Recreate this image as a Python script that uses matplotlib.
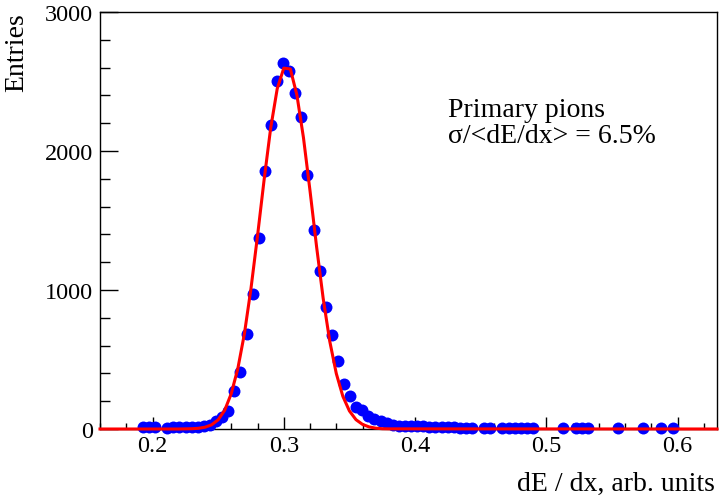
import numpy as np
import matplotlib
matplotlib.use("Agg")
import matplotlib.pyplot as plt
from matplotlib.ticker import MultipleLocator

# dE/dx histogram of primary pions (bin centres, entries)
bin_centers = [0.1927, 0.1973, 0.2020, 0.2113, 0.2159, 0.2205, 0.2252, 0.2298,
               0.2345, 0.2391, 0.2438, 0.2484, 0.2530, 0.2577, 0.2623, 0.2670,
               0.2716, 0.2763, 0.2809, 0.2855, 0.2902, 0.2948, 0.2995, 0.3041,
               0.3088, 0.3134, 0.3180, 0.3227, 0.3273, 0.3320, 0.3366, 0.3413,
               0.3459, 0.3505, 0.3552, 0.3598, 0.3645, 0.3691, 0.3738, 0.3784,
               0.3830, 0.3877, 0.3923, 0.3970, 0.4016, 0.4063, 0.4109, 0.4155,
               0.4202, 0.4248, 0.4295, 0.4341, 0.4388, 0.4434, 0.4527, 0.4573,
               0.4666, 0.4713, 0.4759, 0.4805, 0.4852, 0.4898, 0.5130, 0.5223,
               0.5270, 0.5316, 0.5548, 0.5734, 0.5873, 0.5966]
entries = [14, 12, 15, 10, 12, 11, 13, 12,
           14, 18, 30, 55, 86, 132, 271, 408,
           683, 971, 1376, 1858, 2187, 2501, 2633, 2578,
           2417, 2242, 1827, 1429, 1139, 876, 676, 487,
           324, 240, 156, 135, 97, 72, 54, 43,
           32, 25, 22, 20, 18, 20, 17, 15,
           14, 12, 12, 10, 10, 9, 8, 8,
           7, 7, 6, 7, 6, 6, 5, 5,
           5, 5, 4, 4, 4, 4]

# fitted curve
fit_x = [0.16, 0.22, 0.23, 0.235, 0.24, 0.245, 0.25, 0.255, 0.26, 0.265,
         0.27, 0.275, 0.28, 0.285, 0.29, 0.295, 0.30, 0.305, 0.31, 0.315,
         0.32, 0.325, 0.33, 0.335, 0.34, 0.345, 0.35, 0.355, 0.36, 0.365,
         0.37, 0.375, 0.38, 0.63]
fit_y = [0, 0, 2, 5, 13, 30, 66, 135, 255, 435,
         685, 1010, 1390, 1792, 2164, 2448, 2596, 2590, 2402, 2095,
         1712, 1310, 940, 632, 399, 235, 130, 67, 33, 15,
         6, 2, 1, 0]

label_lines = ["Primary pions", "\u03c3/<dE/dx> = 6.5%"]

plt.rcParams['font.family'] = ['Liberation Serif', 'DejaVu Serif']

fig = plt.figure(figsize=(7.2, 5.02), dpi=100)
ax = fig.add_axes([100 / 720, 72 / 502, 617 / 720, 417 / 502])

ax.plot(bin_centers, entries, 'o', color=(0, 0, 1), markersize=8.6,
        markeredgewidth=0, clip_on=False, zorder=3)
ax.plot(fit_x, fit_y, '-', color=(1, 0, 0), lw=2.2, clip_on=False, zorder=4)

ax.set_xlim(0.16, 0.63)
ax.set_ylim(0, 3000)

ax.xaxis.set_major_locator(MultipleLocator(0.1))
ax.xaxis.set_minor_locator(MultipleLocator(0.02))
ax.yaxis.set_major_locator(MultipleLocator(1000))
ax.yaxis.set_minor_locator(MultipleLocator(200))
ax.xaxis.set_major_formatter(matplotlib.ticker.FuncFormatter(
    lambda v, p: "{:g}".format(round(v, 2))))

ax.tick_params(axis='x', which='major', direction='in', length=8.5,
               width=1, labelsize=17.5, pad=4)
ax.tick_params(axis='x', which='minor', direction='in', length=4.5, width=1)
ax.tick_params(axis='y', which='major', direction='in', length=13,
               width=1, labelsize=17.5, pad=5)
ax.tick_params(axis='y', which='minor', direction='in', length=7, width=1)
for s in ax.spines.values():
    s.set_linewidth(1)

ax.text(0.564, 0.751, label_lines[0], transform=ax.transAxes, fontsize=20,
        va='baseline', ha='left')
ax.text(0.564, 0.688, label_lines[1], transform=ax.transAxes, fontsize=20,
        va='baseline', ha='left')

fig.text(715 / 720, 11 / 502, "dE / dx, arb. units", fontsize=20,
         ha='right', va='baseline')
fig.text(4 / 720, 489 / 502, "Entries", fontsize=20, rotation=90,
         ha='left', va='top')

fig.savefig("out.png", dpi=100)
